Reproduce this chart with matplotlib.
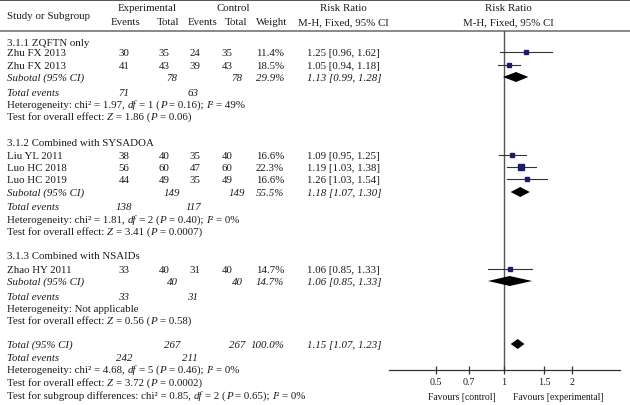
import matplotlib
matplotlib.use("Agg")
import matplotlib.pyplot as plt
import numpy as np

plt.rcParams['font.family'] = ['Liberation Serif', 'DejaVu Serif']

# ---------------- data ----------------
studies = ["Zhu FX 2013", "Zhu FX 2013", "Liu YL 2011", "Luo HC 2018", "Luo HC 2019", "Zhao HY 2011"]
exp_events = [30, 41, 38, 56, 44, 33]
exp_total = [35, 43, 40, 60, 49, 40]
ctl_events = [24, 39, 35, 47, 35, 31]
ctl_total = [35, 43, 40, 60, 49, 40]
weights = [11.4, 18.5, 16.6, 22.3, 16.6, 14.7]
rr = [1.25, 1.05, 1.09, 1.19, 1.26, 1.06]
rr_lo = [0.96, 0.94, 0.95, 1.03, 1.03, 0.85]
rr_hi = [1.62, 1.18, 1.25, 1.38, 1.54, 1.33]

groups = ["3.1.1 ZQFTN only", "3.1.2 Combined with SYSADOA", "3.1.3 Combined with NSAIDs"]
sub_exp_total = [78, 149, 40]
sub_ctl_total = [78, 149, 40]
sub_weight = [29.9, 55.5, 14.7]
sub_rr = [1.13, 1.18, 1.06]
sub_lo = [0.99, 1.07, 0.85]
sub_hi = [1.28, 1.30, 1.33]
sub_exp_events = [71, 138, 33]
sub_ctl_events = [63, 117, 31]
# words between * are italic
sub_het = ["Heterogeneity: chi² = 1.97, *df* = 1 (*P* = 0.16); *I*² = 49%",
           "Heterogeneity: chi² = 1.81, *df* = 2 (*P* = 0.40); *I*² = 0%",
           "Heterogeneity: Not applicable"]
sub_test = ["Test for overall effect: *Z* = 1.86 (*P* = 0.06)",
            "Test for overall effect: *Z* = 3.41 (*P* = 0.0007)",
            "Test for overall effect: *Z* = 0.56 (*P* = 0.58)"]

tot_exp_total, tot_ctl_total, tot_weight = 267, 267, 100.0
tot_rr, tot_lo, tot_hi = 1.15, 1.07, 1.23
tot_exp_events, tot_ctl_events = 242, 211
tot_het = "Heterogeneity: chi² = 4.68, *df* = 5 (*P* = 0.46); *I*² = 0%"
tot_test = "Test for overall effect: *Z* = 3.72 (*P* = 0.0002)"
tot_sub = "Test for subgroup differences: chi² = 0.85, *df* = 2 (*P* = 0.65); *I*² = 0%"

ticks = [0.5, 0.7, 1, 1.5, 2]
tick_labels = ["0.5", "0.7", "1", "1.5", "2"]

# ---------------- layout (pixel rows, from top) ----------------
W, H = 630, 406
group_head_y = [43, 143, 256]
study_y = [53, 66, 156, 168, 180, 270]
sub_y = [78, 193, 282]
sub_ev_y = [93, 207, 297]
sub_het_y = [105, 220, 309]
sub_test_y = [117, 232, 321]
tot_y, tot_ev_y, tot_het_y, tot_test_y, tot_sub_y = 345, 358, 370, 383, 396

FS = 7.8
TC = '#1a1a1a'
BASE = 2.9  # baseline offset below the row centre, px

fig = plt.figure(figsize=(W / 100, H / 100), dpi=100)
tab = fig.add_axes([0, 0, 1, 1])
tab.set_xlim(0, W)
tab.set_ylim(H, 0)
tab.axis('off')
renderer = fig.canvas.get_renderer()


def t(x, y, s, ha='left', style='normal', fs=FS):
    return tab.text(x, y + BASE, s, ha=ha, va='baseline', fontsize=fs, style=style, color=TC)


def width_of(s, style):
    tx = tab.text(0, 0, s, fontsize=FS, style=style)
    w = tx.get_window_extent(renderer).width
    tx.remove()
    return w


def adv(s, style):
    return width_of('x' + s + 'x', style) - width_of('xx', style)


def rich(x, y, s):
    parts = s.split('*')
    xc = x
    for k, p in enumerate(parts):
        if not p:
            continue
        style = 'italic' if k % 2 else 'normal'
        lead = len(p) - len(p.lstrip(' '))
        core = p.lstrip(' ')
        if lead:
            xc += adv(' ' * lead, style)
        if core.strip(' '):
            t(xc, y, core.rstrip(' '), style=style)
        xc += adv(core, style)


# header rules
tab.axhline(1.2, color='#555555', lw=1.4)
tab.axhline(32, color='#888888', lw=1.4)

t(7, 16, "Study or Subgroup")
t(147, 8, "Experimental", 'center')
t(233, 8, "Control", 'center')
t(126, 22, "Events", 'center')
t(168, 22, "Total", 'center')
t(203, 22, "Events", 'center')
t(236, 22, "Total", 'center')
t(272, 22, "Weight", 'center')
t(343, 8, "Risk Ratio", 'center')
t(343, 22, "M-H, Fixed, 95% CI", 'center')
t(508, 8, "Risk Ratio", 'center')
t(508, 22, "M-H, Fixed, 95% CI", 'center')

X_EV, X_TOT, X_CEV, X_CTOT, X_W, X_CI = 124, 164, 195, 227, 284, 307

for gi, g in enumerate(groups):
    t(7, group_head_y[gi], g)
for i, s in enumerate(studies):
    y = study_y[i]
    t(7, y, s)
    t(X_EV, y, str(exp_events[i]), 'center')
    t(X_TOT, y, str(exp_total[i]), 'center')
    t(X_CEV, y, str(ctl_events[i]), 'center')
    t(X_CTOT, y, str(ctl_total[i]), 'center')
    t(X_W, y, f"{weights[i]:.1f}%", 'right')
    t(X_CI, y, f"{rr[i]:.2f} [{rr_lo[i]:.2f}, {rr_hi[i]:.2f}]")

for gi in range(len(groups)):
    y = sub_y[gi]
    t(7, y, "Subotal (95% CI)", style='italic')
    t(172, y, str(sub_exp_total[gi]), 'center', 'italic')
    t(237, y, str(sub_ctl_total[gi]), 'center', 'italic')
    t(X_W, y, f"{sub_weight[gi]:.1f}%", 'right', 'italic')
    t(X_CI, y, f"{sub_rr[gi]:.2f} [{sub_lo[gi]:.2f}, {sub_hi[gi]:.2f}]", style='italic')
    y = sub_ev_y[gi]
    t(7, y, "Total events", style='italic')
    t(124, y, str(sub_exp_events[gi]), 'center', 'italic')
    t(193, y, str(sub_ctl_events[gi]), 'center', 'italic')
    rich(7, sub_het_y[gi], sub_het[gi])
    rich(7, sub_test_y[gi], sub_test[gi])

t(7, tot_y, "Total (95% CI)", style='italic')
t(172, tot_y, str(tot_exp_total), 'center', 'italic')
t(237, tot_y, str(tot_ctl_total), 'center', 'italic')
t(X_W, tot_y, f"{tot_weight:.1f}%", 'right', 'italic')
t(X_CI, tot_y, f"{tot_rr:.2f} [{tot_lo:.2f}, {tot_hi:.2f}]", style='italic')
t(7, tot_ev_y, "Total events", style='italic')
t(124, tot_ev_y, str(tot_exp_events), 'center', 'italic')
t(190, tot_ev_y, str(tot_ctl_events), 'center', 'italic')
rich(7, tot_het_y, tot_het)
rich(7, tot_test_y, tot_test)
rich(7, tot_sub_y, tot_sub)

# ---------------- forest axes ----------------
x0, x1 = 389, 620
ytop, ybot = 32, 371
fp = fig.add_axes([x0 / W, (H - ybot) / H, (x1 - x0) / W, (ybot - ytop) / H])
fp.set_xscale('log')
fp.set_xlim(np.exp((x0 - 504) / 98.6), np.exp((x1 - 504) / 98.6))
fp.set_ylim(ybot, ytop)
fp.patch.set_alpha(0)
for sp in ['left', 'right', 'top']:
    fp.spines[sp].set_visible(False)
fp.spines['bottom'].set_color('#333333')
fp.spines['bottom'].set_linewidth(0.9)
fp.set_yticks([])
fp.xaxis.set_minor_locator(matplotlib.ticker.NullLocator())
fp.set_xticks(ticks)
fp.set_xticklabels(tick_labels, fontsize=7.2, color=TC)
fp.tick_params(axis='x', direction='inout', length=6, width=0.9, color='#333333', pad=2)
fp.axvline(1, color='#555555', lw=1.0, zorder=1)

for i in range(len(studies)):
    y = study_y[i]
    fp.plot([rr_lo[i], rr_hi[i]], [y, y], color='#333333', lw=0.8, zorder=2)
    fp.plot(rr[i], y, marker='s', color='#1c1c6e', ms=0.78 * np.sqrt(weights[i]),
            mec='#1c1c6e', zorder=3)


def diamond(est, lo, hi, y, h=5):
    fp.fill([lo, est, hi, est], [y, y - h, y, y + h], color='black', lw=0, zorder=3)


for gi in range(len(groups)):
    diamond(sub_rr[gi], sub_lo[gi], sub_hi[gi], sub_y[gi])
diamond(tot_rr, tot_lo, tot_hi, tot_y)

t(496, 397, "Favours [control]", 'right', fs=6.9)
t(513, 397, "Favours [experimental]", 'left', fs=6.9)

fig.savefig("out.png", dpi=100)
